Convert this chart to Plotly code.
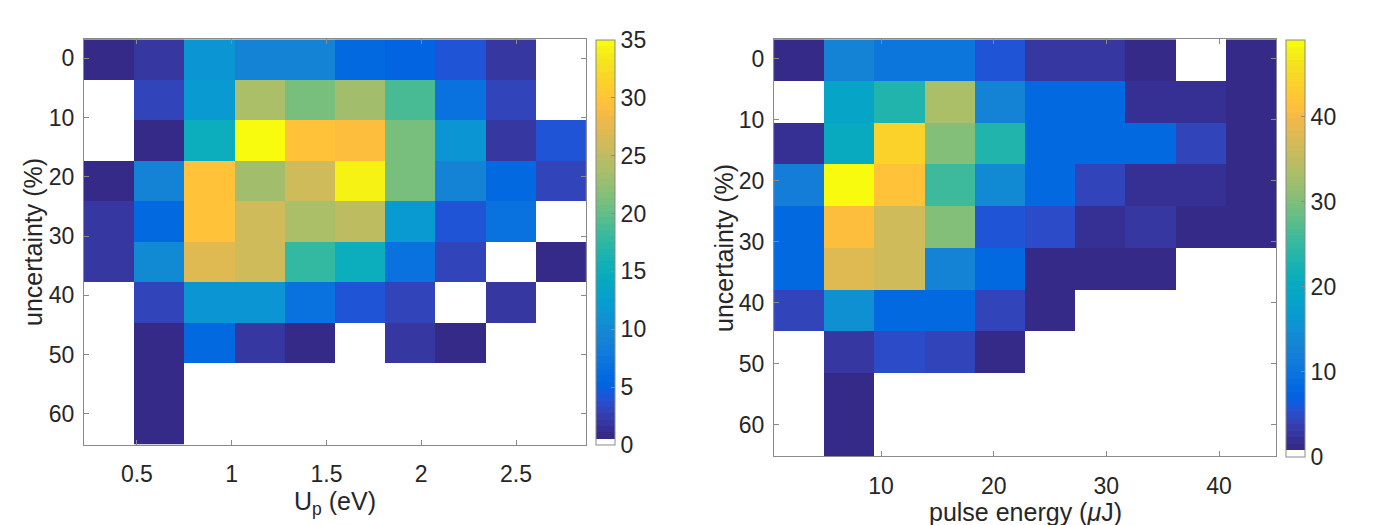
import numpy as np
import plotly.graph_objects as go

# ---------------- data ----------------
up_centers = [0.353, 0.618, 0.883, 1.148, 1.413, 1.677, 1.942, 2.207, 2.472, 2.737]
energy_centers = [2.73, 7.18, 11.64, 16.10, 20.55, 25.01, 29.47, 33.92, 38.38, 42.83]
unc_centers = [0.22, 7.06, 13.90, 20.74, 27.58, 34.42, 41.26, 48.10, 54.94, 61.78]

counts_up = [
    [1, 2, 11, 9, 9, 6, 5, 4, 2, 0],
    [0, 3, 12, 24, 21, 23, 19, 7, 3, 0],
    [0, 1, 15, 35, 30, 29, 21, 11, 2, 4],
    [1, 9, 30, 23, 26, 34, 21, 9, 6, 3],
    [2, 6, 30, 26, 24, 25, 12, 4, 7, 0],
    [2, 10, 27, 26, 18, 15, 7, 3, 0, 1],
    [0, 3, 11, 11, 7, 4, 3, 0, 2, 0],
    [0, 1, 6, 2, 1, 0, 2, 1, 0, 0],
    [0, 1, 0, 0, 0, 0, 0, 0, 0, 0],
    [0, 1, 0, 0, 0, 0, 0, 0, 0, 0],
]
counts_energy = [
    [1, 13, 10, 10, 6, 3, 3, 1, 0, 1],
    [0, 19, 23, 33, 13, 8, 8, 2, 2, 1],
    [2, 20, 44, 30, 23, 8, 8, 8, 4, 1],
    [12, 49, 42, 26, 14, 8, 4, 2, 2, 1],
    [8, 41, 36, 30, 6, 5, 2, 3, 1, 1],
    [8, 38, 36, 13, 8, 1, 1, 1, 0, 0],
    [4, 15, 8, 8, 4, 1, 0, 0, 0, 0],
    [0, 3, 5, 4, 1, 0, 0, 0, 0, 0],
    [0, 1, 0, 0, 0, 0, 0, 0, 0, 0],
    [0, 1, 0, 0, 0, 0, 0, 0, 0, 0],
]
up_ticks = [0.5, 1, 1.5, 2, 2.5]
up_ticktext = ["0.5", "1", "1.5", "2", "2.5"]
energy_ticks = [10, 20, 30, 40]
unc_ticks = [0, 10, 20, 30, 40, 50, 60]
cbar_up_ticks = [0, 5, 10, 15, 20, 25, 30, 35]
cbar_energy_ticks = [0, 10, 20, 30, 40]
zmax_up = 35
zmax_energy = 49

# ---------------- colormap: white + parula ----------------
parula64 = np.array([
    [0.2081, 0.1663, 0.5292], [0.2116, 0.1898, 0.5777], [0.2123, 0.2138, 0.6270], [0.2081, 0.2386, 0.6771],
    [0.1959, 0.2645, 0.7279], [0.1707, 0.2919, 0.7792], [0.1253, 0.3242, 0.8303], [0.0591, 0.3598, 0.8683],
    [0.0117, 0.3875, 0.8820], [0.0060, 0.4086, 0.8828], [0.0165, 0.4266, 0.8786], [0.0329, 0.4430, 0.8720],
    [0.0498, 0.4586, 0.8641], [0.0629, 0.4737, 0.8554], [0.0723, 0.4887, 0.8467], [0.0779, 0.5040, 0.8384],
    [0.0793, 0.5200, 0.8312], [0.0749, 0.5375, 0.8263], [0.0641, 0.5570, 0.8240], [0.0488, 0.5772, 0.8228],
    [0.0343, 0.5966, 0.8199], [0.0265, 0.6137, 0.8135], [0.0239, 0.6287, 0.8038], [0.0231, 0.6418, 0.7913],
    [0.0228, 0.6535, 0.7768], [0.0267, 0.6642, 0.7607], [0.0384, 0.6743, 0.7436], [0.0590, 0.6838, 0.7254],
    [0.0843, 0.6928, 0.7062], [0.1133, 0.7015, 0.6859], [0.1453, 0.7098, 0.6646], [0.1801, 0.7177, 0.6424],
    [0.2178, 0.7250, 0.6193], [0.2586, 0.7317, 0.5954], [0.3022, 0.7376, 0.5712], [0.3482, 0.7424, 0.5473],
    [0.3953, 0.7459, 0.5244], [0.4420, 0.7481, 0.5033], [0.4871, 0.7491, 0.4840], [0.5300, 0.7491, 0.4661],
    [0.5709, 0.7485, 0.4494], [0.6099, 0.7473, 0.4337], [0.6473, 0.7456, 0.4188], [0.6834, 0.7435, 0.4044],
    [0.7184, 0.7411, 0.3905], [0.7525, 0.7384, 0.3768], [0.7858, 0.7356, 0.3633], [0.8185, 0.7327, 0.3498],
    [0.8507, 0.7299, 0.3360], [0.8824, 0.7274, 0.3217], [0.9139, 0.7258, 0.3063], [0.9450, 0.7261, 0.2886],
    [0.9739, 0.7314, 0.2666], [0.9938, 0.7455, 0.2403], [0.9990, 0.7653, 0.2164], [0.9955, 0.7861, 0.1967],
    [0.9880, 0.8066, 0.1794], [0.9789, 0.8271, 0.1633], [0.9697, 0.8481, 0.1475], [0.9626, 0.8705, 0.1309],
    [0.9589, 0.8949, 0.1132], [0.9598, 0.9218, 0.0948], [0.9661, 0.9514, 0.0755], [0.9763, 0.9831, 0.0538],
])
src = np.linspace(0, 1, 64)
dst = np.linspace(0, 1, 63)
par63 = np.stack([np.interp(dst, src, parula64[:, k]) for k in range(3)], axis=1)
cmap = [(1.0, 1.0, 1.0)] + [tuple(c) for c in par63]
N = len(cmap)
colorscale = []
for i, c in enumerate(cmap):
    col = "rgb(%d,%d,%d)" % tuple(int(round(v * 255)) for v in c)
    colorscale.append([i / N, col])
    colorscale.append([(i + 1) / N, col])

# ---------------- layout geometry ----------------
W, H = 1390, 525
FONT = "Liberation Sans, Arial, Helvetica, sans-serif"
TXT = "#262626"
AX = "#8a8a8a"
TICKF = 23
TITLEF = 25


def px_x(p):
    return p / W


def px_y(p):
    return 1 - p / H


left_dom_x = [px_x(84), px_x(586)]
left_dom_y = [px_y(444.7), px_y(39.3)]
right_dom_x = [px_x(774), px_x(1276)]
right_dom_y = [px_y(456.3), px_y(39.3)]

fig = go.Figure()

fig.add_trace(go.Heatmap(
    x=up_centers, y=unc_centers, z=counts_up,
    colorscale=colorscale, zmin=0, zmax=zmax_up,
    xaxis="x", yaxis="y",
    colorbar=dict(
        x=px_x(595.7), xanchor="left", xref="paper",
        y=px_y(445), yanchor="bottom", yref="paper",
        lenmode="pixels", len=405, thicknessmode="pixels", thickness=19,
        outlinecolor=AX, outlinewidth=1, xpad=0, ypad=0,
        ticks="inside", ticklen=4, tickcolor=AX,
        tickvals=cbar_up_ticks, tickfont=dict(family=FONT, size=TICKF, color=TXT),
    ),
))
fig.add_trace(go.Heatmap(
    x=energy_centers, y=unc_centers, z=counts_energy,
    colorscale=colorscale, zmin=0, zmax=zmax_energy,
    xaxis="x2", yaxis="y2",
    colorbar=dict(
        x=px_x(1285.7), xanchor="left", xref="paper",
        y=px_y(457), yanchor="bottom", yref="paper",
        lenmode="pixels", len=417, thicknessmode="pixels", thickness=19,
        outlinecolor=AX, outlinewidth=1, xpad=0, ypad=0,
        ticks="inside", ticklen=4, tickcolor=AX,
        tickvals=cbar_energy_ticks, tickfont=dict(family=FONT, size=TICKF, color=TXT),
    ),
))

axis_common = dict(
    showline=True, linecolor=AX, linewidth=1, mirror="ticks",
    ticks="inside", ticklen=5, tickcolor=AX, tickwidth=1,
    tickfont=dict(family=FONT, size=TICKF, color=TXT),
    showgrid=False, zeroline=False, automargin=False,
)

fig.update_layout(
    width=W, height=H,
    margin=dict(l=0, r=0, t=0, b=0),
    paper_bgcolor="white", plot_bgcolor="white",
    showlegend=False,
    xaxis=dict(domain=left_dom_x, range=[0.221, 2.869], tickvals=up_ticks, ticktext=up_ticktext,
               anchor="y", ticklabelstandoff=9, **axis_common),
    yaxis=dict(domain=left_dom_y, range=[65.2, -3.2], tickvals=unc_ticks,
               anchor="x", ticklabelstandoff=4, **axis_common),
    xaxis2=dict(domain=right_dom_x, range=[0.5, 45.06], tickvals=energy_ticks,
                anchor="y2", ticklabelstandoff=9, **axis_common),
    yaxis2=dict(domain=right_dom_y, range=[65.2, -3.2], tickvals=unc_ticks,
                anchor="x2", ticklabelstandoff=4, **axis_common),
    annotations=[
        dict(text="U<sub>p</sub> (eV)", x=px_x(335), y=px_y(503), xref="paper", yref="paper",
             xanchor="center", yanchor="middle", showarrow=False,
             font=dict(family=FONT, size=TITLEF, color=TXT)),
        dict(text="pulse energy (<i>\u03bc</i>J)", x=px_x(1025), y=px_y(512), xref="paper", yref="paper",
             xanchor="center", yanchor="middle", showarrow=False,
             font=dict(family=FONT, size=TITLEF, color=TXT)),
        dict(text="uncertainty (%)", x=px_x(33), y=px_y(242), xref="paper", yref="paper",
             xanchor="center", yanchor="middle", textangle=-90, showarrow=False,
             font=dict(family=FONT, size=TITLEF, color=TXT)),
        dict(text="uncertainty (%)", x=px_x(724), y=px_y(248), xref="paper", yref="paper",
             xanchor="center", yanchor="middle", textangle=-90, showarrow=False,
             font=dict(family=FONT, size=TITLEF, color=TXT)),
    ],
)

fig.write_html("out.html")
